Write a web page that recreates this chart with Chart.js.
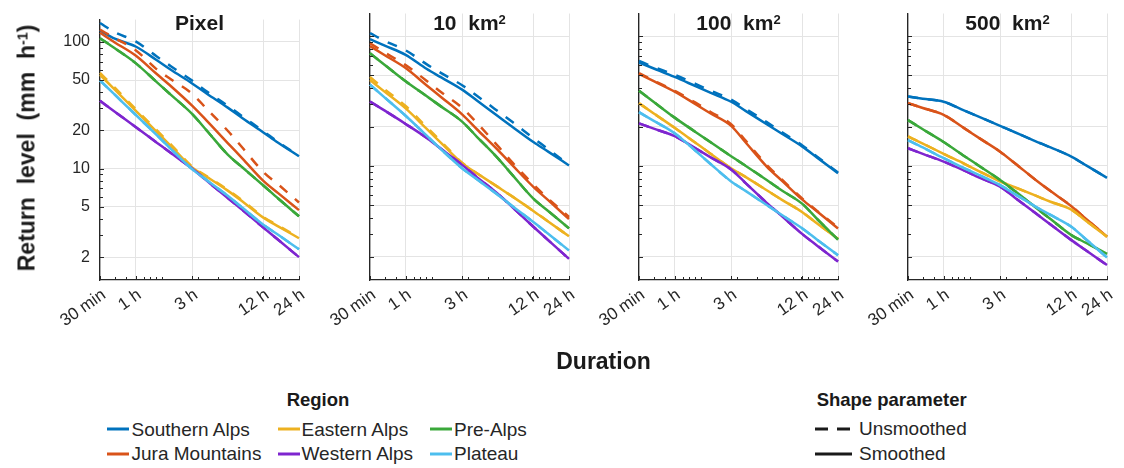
<!DOCTYPE html>
<html>
<head>
<meta charset="utf-8">
<script src="https://cdn.jsdelivr.net/npm/chart.js@4.4.1/dist/chart.umd.min.js"></script>
<style>
  html, body { margin: 0; padding: 0; background: #fff; }
  body { width: 1124px; height: 468px; position: relative; overflow: hidden;
         font-family: "Liberation Sans", Arial, Helvetica, sans-serif; color: #262626; }
  canvas.panel { position: absolute; top: 0; }
  .txt { position: absolute; white-space: nowrap; line-height: 1; }
  .bold { font-weight: bold; }
  .sup { font-size: 0.62em; position: relative; top: -0.5em; }
  svg.key { position: absolute; overflow: visible; }
</style>
</head>
<body>

<script>
// ---- durations (minutes) and axis ticks ----
const durations = [30, 40, 60, 90, 120, 180, 240, 360, 480, 720, 960, 1440];
const durationTicks = [30, 60, 180, 720, 1440];
const durationTickLabels = ['30 min', '1 h', '3 h', '12 h', '24 h'];
const durationMinorTicks = [40, 50, 70, 80, 90, 100, 200, 300, 400, 500, 600, 700, 800, 900, 1000];
const levelTicks = [2, 5, 10, 20, 50, 100];
const levelMinorTicks = [3, 4, 6, 7, 8, 9, 30, 40, 60, 70, 80, 90];

// ---- regions ----
const regionNames = ['Southern Alps', 'Jura Mountains', 'Eastern Alps', 'Western Alps', 'Pre-Alps', 'Plateau'];
const regionColors = ['#0072bd', '#d95319', '#edb120', '#7e25cf', '#3aa83a', '#4dbeee'];

// ---- panel titles ----
const panelTitles = ['Pixel', '10&nbsp; km<span class="sup">2</span>', '100&nbsp; km<span class="sup">2</span>', '500&nbsp; km<span class="sup">2</span>'];

// ---- return levels (mm/h), smoothed shape parameter ----
const pixelSouthern = [123, 106, 92, 72, 60, 47, 39, 30.3, 25, 19.3, 16, 12.5];
const pixelJura     = [118, 99, 78, 56, 44.5, 31.4, 23.8, 15.9, 12, 8.0, 6.4, 4.7];
const pixelEastern  = [55, 42, 28.7, 19.6, 15, 10.2, 8.6, 6.7, 5.5, 4.1, 3.5, 2.82];
const pixelWestern  = [34.3, 28.1, 21.3, 16.1, 13.2, 10.0, 8.0, 5.85, 4.7, 3.42, 2.74, 2.0];
const pixelPreAlps  = [107, 89, 68, 48.4, 38, 27, 19.9, 12.9, 10.2, 7.35, 5.8, 4.2];
const pixelPlateau  = [49.6, 38.3, 26.6, 18.5, 14.2, 9.9, 8.1, 6.1, 4.9, 3.6, 3.0, 2.31];

const km10Southern = [95, 84.7, 72, 56.2, 48.2, 38.8, 32, 24.3, 20, 15.3, 12.9, 10.1];
const km10Jura     = [84, 71.5, 56.9, 42, 33.9, 25, 19.2, 13.3, 10.1, 6.9, 5.45, 3.9];
const km10Eastern  = [46, 37.3, 27.8, 19.4, 15.0, 10.5, 8.8, 6.9, 5.8, 4.5, 3.73, 2.87];
const km10Western  = [31.4, 26.7, 21.1, 16.5, 13.5, 10.2, 8.2, 6.1, 4.8, 3.4, 2.68, 1.92];
const km10PreAlps  = [74, 60.2, 45, 34.6, 28.7, 22, 16.8, 11.5, 8.5, 5.6, 4.5, 3.3];
const km10Plateau  = [42.4, 33.7, 24.4, 17.2, 13.4, 9.6, 7.9, 6.0, 4.9, 3.7, 3.0, 2.23];

const km100Southern = [62.8, 56.5, 48.6, 41.3, 36.8, 31.3, 26.5, 21, 17.8, 14.1, 11.6, 8.8];
const km100Jura     = [51.4, 45.1, 37.5, 30, 25.5, 20.4, 15.1, 9.9, 7.75, 5.5, 4.45, 3.3];
const km100Eastern  = [30.5, 25.4, 19.7, 15.1, 12.5, 9.6, 8.2, 6.5, 5.5, 4.4, 3.6, 2.75];
const km100Western  = [21.3, 19.4, 17.0, 13.7, 11.7, 9.4, 7.35, 5.2, 4.13, 2.98, 2.43, 1.83];
const km100PreAlps  = [38.1, 31.2, 23.6, 18.3, 15.3, 11.9, 10, 7.8, 6.5, 5.1, 3.9, 2.7];
const km100Plateau  = [26, 22.3, 17.9, 13.1, 10.4, 7.6, 6.4, 5.0, 4.2, 3.3, 2.7, 2.05];

const km500Southern = [34.3, 33.0, 31.3, 26.7, 23.9, 20.4, 18.2, 15.5, 13.9, 11.8, 10.1, 8.1];
const km500Jura     = [30.5, 28, 24.8, 19.5, 16.4, 12.9, 10.5, 7.8, 6.4, 4.9, 3.9, 2.85];
const km500Eastern  = [16.9, 14.9, 12.4, 10.4, 9.1, 7.6, 6.85, 5.9, 5.3, 4.6, 3.77, 2.85];
const km500Western  = [13.7, 12.4, 10.8, 9.2, 8.15, 6.92, 5.7, 4.31, 3.54, 2.68, 2.23, 1.72];
const km500PreAlps  = [22.6, 19.2, 15.3, 11.9, 10, 7.8, 6.4, 4.78, 3.9, 2.93, 2.55, 2.1];
const km500Plateau  = [15.8, 13.9, 11.5, 9.6, 8.5, 7.13, 6.07, 4.85, 4.19, 3.4, 2.71, 1.97];

// ---- return levels (mm/h), unsmoothed shape parameter (where it departs) ----
const pixelSouthernRaw = [141, 119, 101, 77, 64, 49.5, 40.5, 31.3, 25.8, 19.7, 16.2, 12.6];
const pixelJuraRaw     = [125, 107, 86, 61, 50.5, 39, 29.5, 19.9, 14.6, 9.4, 7.5, 5.4];
const pixelEasternRaw  = [57, 43.5, 29.5, 20.2, 15.4, 10.4, 8.7, 6.8, 5.6, 4.15, 3.55, 2.85];
const km10SouthernRaw  = [106, 92, 78, 61, 52, 42, 34.8, 26.5, 21.8, 16.4, 13.5, 10.2];
const km10JuraRaw      = [88.5, 75, 60, 45.5, 37, 28.1, 21.5, 14.3, 10.6, 7.2, 5.6, 4.05];
const km10EasternRaw   = [48.5, 39, 29, 20, 15.4, 10.6, 8.8, 6.9, 5.8, 4.5, 3.73, 2.87];
const km100SouthernRaw = [64.5, 58, 50.5, 43, 38.2, 32.5, 27.5, 21.8, 18.3, 14.4, 11.8, 8.9];
const km100JuraRaw     = [52, 45.5, 38, 30.8, 26.2, 21, 15.6, 10.2, 7.9, 5.6, 4.5, 3.35];

// per panel, per region (order of regionNames)
const smoothedTable = [
  [pixelSouthern, pixelJura, pixelEastern, pixelWestern, pixelPreAlps, pixelPlateau],
  [km10Southern, km10Jura, km10Eastern, km10Western, km10PreAlps, km10Plateau],
  [km100Southern, km100Jura, km100Eastern, km100Western, km100PreAlps, km100Plateau],
  [km500Southern, km500Jura, km500Eastern, km500Western, km500PreAlps, km500Plateau]
];
const unsmoothedTable = [
  [pixelSouthernRaw, pixelJuraRaw, pixelEasternRaw, null, null, null],
  [km10SouthernRaw, km10JuraRaw, km10EasternRaw, null, null, null],
  [km100SouthernRaw, km100JuraRaw, null, null, null, null],
  [null, null, null, null, null, null]
];

// ---- layout ----
const FONT = "'Liberation Sans', Arial, Helvetica, sans-serif";
const AXIS = '#262626';
const GRID = '#e4e4e4';
const panelLefts = [100, 370, 639, 908];
const plotWidth = 199;
const plotTop = 13.5;
const plotBottom = 280;
const canvasHeight = 345;
const rightPad = 25;

// inward tick marks on the left and bottom axes
const innerTicks = {
  id: 'innerTicks',
  afterDatasetsDraw(chart) {
    const { ctx, chartArea: a, scales: { x, y } } = chart;
    ctx.save();
    ctx.strokeStyle = AXIS;
    ctx.lineWidth = 1;
    ctx.beginPath();
    const xt = (v, len) => { const px = Math.round(x.getPixelForValue(v)) + 0.5; ctx.moveTo(px, a.bottom); ctx.lineTo(px, a.bottom - len); };
    const yt = (v, len) => { const py = Math.round(y.getPixelForValue(v)) + 0.5; ctx.moveTo(a.left, py); ctx.lineTo(a.left + len, py); };
    durationTicks.forEach(v => xt(v, 4));
    durationMinorTicks.forEach(v => xt(v, 3));
    levelTicks.forEach(v => yt(v, 4));
    levelMinorTicks.forEach(v => yt(v, 3));
    ctx.stroke();
    ctx.restore();
  }
};

function addText(html, left, baseline, size, opts = {}) {
  const d = document.createElement('div');
  d.className = 'txt' + (opts.bold ? ' bold' : '');
  d.innerHTML = html;
  d.style.fontSize = size + 'px';
  d.style.left = left + 'px';
  d.style.top = (baseline - 0.8465 * size) + 'px';
  if (opts.center) d.style.transform = 'translateX(-50%)';
  if (opts.color) d.style.color = opts.color;
  document.body.appendChild(d);
  return d;
}

function addKey(x1, x2, y, color, dash) {
  const ns = 'http://www.w3.org/2000/svg';
  const svg = document.createElementNS(ns, 'svg');
  svg.setAttribute('class', 'key');
  svg.setAttribute('width', x2 - x1);
  svg.setAttribute('height', 6);
  svg.style.left = x1 + 'px';
  svg.style.top = (y - 3) + 'px';
  const ln = document.createElementNS(ns, 'line');
  ln.setAttribute('x1', 0); ln.setAttribute('x2', x2 - x1);
  ln.setAttribute('y1', 3); ln.setAttribute('y2', 3);
  ln.setAttribute('stroke', color);
  ln.setAttribute('stroke-width', 3);
  if (dash) ln.setAttribute('stroke-dasharray', dash);
  svg.appendChild(ln);
  document.body.appendChild(svg);
}

// ---- panels ----
panelTitles.forEach((title, p) => {
  const padL = p === 0 ? 100 : 75;
  const canvas = document.createElement('canvas');
  canvas.className = 'panel';
  canvas.width = padL + plotWidth + rightPad;
  canvas.height = canvasHeight;
  canvas.style.left = (panelLefts[p] - padL) + 'px';
  document.body.appendChild(canvas);

  const datasets = [];
  let k = 0;
  regionNames.forEach((name, r) => {
    const solid = smoothedTable[p][r];
    const raw = unsmoothedTable[p][r] || solid;
    datasets.push({
      label: name + ' (smoothed)',
      data: durations.map((d, i) => ({ x: d, y: solid[i] })),
      borderColor: regionColors[r], borderWidth: 2.5, order: 100 - (k++),
      cubicInterpolationMode: 'monotone', pointRadius: 0, clip: 6
    });
    datasets.push({
      label: name + ' (unsmoothed)',
      data: durations.map((d, i) => ({ x: d, y: raw[i] })),
      borderColor: regionColors[r], borderWidth: 2.5, borderDash: [10, 10], order: 100 - (k++),
      cubicInterpolationMode: 'monotone', pointRadius: 0, clip: 6
    });
  });

  new Chart(canvas, {
    type: 'line',
    data: { datasets },
    options: {
      responsive: false,
      animation: false,
      devicePixelRatio: 1,
      events: [],
      layout: { padding: { top: plotTop, right: rightPad, left: 0, bottom: 0 } },
      plugins: { legend: { display: false }, tooltip: { enabled: false }, title: { display: false } },
      scales: {
        x: {
          type: 'logarithmic', position: 'bottom', min: 30, max: 1440,
          afterBuildTicks: s => { s.ticks = durationTicks.map(v => ({ value: v })); },
          afterFit: s => { s.height = canvasHeight - plotBottom; },
          grid: { color: GRID, lineWidth: 1, drawTicks: false },
          border: { display: true, color: AXIS, width: 1.3 },
          ticks: {
            autoSkip: false, minRotation: 35, maxRotation: 35, padding: 5, labelOffset: 4,
            color: AXIS, font: { family: FONT, size: 17 },
            callback: v => { const i = durationTicks.indexOf(v); return i >= 0 ? durationTickLabels[i] : ''; }
          }
        },
        y: {
          type: 'logarithmic', position: 'left', min: 1.32, max: 150,
          afterBuildTicks: s => { s.ticks = levelTicks.map(v => ({ value: v })); },
          afterFit: s => { s.width = padL; },
          grid: { color: GRID, lineWidth: 1, drawTicks: false },
          border: { display: true, color: AXIS, width: 1.3 },
          ticks: {
            display: p === 0, padding: 10, color: AXIS, font: { family: FONT, size: 16 },
            callback: v => String(v)
          }
        }
      }
    },
    plugins: [innerTicks]
  });

  addText(title, panelLefts[p] + plotWidth / 2, 30, 21, { bold: true, center: true, color: '#1a1a1a' });
});

// ---- axis titles ----
addText('Duration', 603.5, 369, 23, { bold: true, center: true, color: '#1a1a1a' });
const yTitle = document.createElement('div');
yTitle.className = 'txt bold';
yTitle.innerHTML = 'Return&nbsp; level&nbsp; (mm&nbsp; h<span class="sup">-1</span>)';
yTitle.style.fontSize = '23px';
yTitle.style.color = '#1a1a1a';
yTitle.style.left = '27px';
yTitle.style.top = '147.5px';
yTitle.style.transform = 'translate(-50%, -50%) rotate(-90deg)';
document.body.appendChild(yTitle);

// ---- region legend ----
addText('Region', 318, 406.5, 18.5, { bold: true, center: true, color: '#1a1a1a' });
const keyStarts = [107, 277.5, 430];
const textStarts = [131.5, 301.5, 454];
const rowLines = [429, 453.5];
const rowBaselines = [436, 460.5];
regionNames.forEach((name, r) => {
  const col = Math.floor(r / 2), row = r % 2;
  addKey(keyStarts[col], keyStarts[col] + 22, rowLines[row], regionColors[r]);
  addText(name, textStarts[col], rowBaselines[row], 19);
});

// ---- shape parameter legend ----
addText('Shape parameter', 891.7, 406.5, 18.5, { bold: true, center: true, color: '#1a1a1a' });
addKey(815, 852, 428.5, '#1a1a1a', '13 9');
addText('Unsmoothed', 859, 435.5, 19);
addKey(815, 852, 453.5, '#1a1a1a');
addText('Smoothed', 859, 460, 19);
</script>
</body>
</html>
